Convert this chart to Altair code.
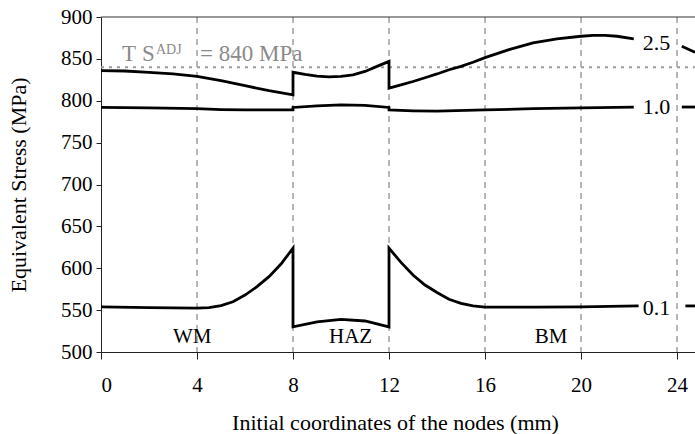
import altair as alt
import pandas as pd

# ---- data ----
# curve "2.5"
x_25_a = [0, 1, 2, 3, 4, 5, 6, 7, 8, 8, 8.5, 9, 9.5, 10, 10.5, 11, 11.5, 12, 12,
          12.5, 13, 13.5, 14, 14.5, 15, 15.5, 16, 17, 18, 19, 20, 20.5, 21, 21.5, 22.2]
y_25_a = [836, 835.5, 834, 832, 829, 824, 818, 812, 807, 834, 831.5, 829.5, 828.5, 829,
          831, 835, 841, 847, 815, 819, 823, 827.5, 832, 837, 841, 846, 851.5, 861, 869,
          874, 877, 878, 878, 877, 874]
x_25_b = [24.2, 24.75]
y_25_b = [865, 858]

# curve "1.0"
x_10_a = [0, 2, 4, 5, 6, 7, 8, 8, 9, 10, 11, 12, 12, 13, 14, 16, 18, 20, 22.2]
y_10_a = [792, 791.5, 790.5, 789.5, 789, 789, 789, 792, 794, 795, 794.5, 792, 789, 788,
          787.5, 789, 790.5, 791.5, 792.5]
x_10_b = [24.2, 24.75]
y_10_b = [792.5, 792.5]

# curve "0.1"
x_01_a = [0, 2, 4, 4.5, 5, 5.5, 6, 6.5, 7, 7.5, 8, 8, 9, 10, 11, 12, 12, 12.5, 13,
          13.5, 14, 14.5, 15, 15.5, 16, 18, 20, 22.4]
y_01_a = [554, 553, 552.5, 553, 555.5, 560, 568, 578, 590, 605, 624, 530, 536, 539, 537,
          530, 624, 607, 592, 580, 571, 563, 558, 555, 553.5, 553.5, 554, 555]
x_01_b = [24.35, 24.75]
y_01_b = [555, 555]

curve_labels = ["2.5", "1.0", "0.1"]
curve_label_x = [23.15, 23.15, 23.15]
curve_label_y = [869, 792.5, 553]

zone_names = ["WM", "HAZ", "BM"]
zone_x = [3.8, 10.4, 18.75]
zone_y = [518, 518, 518]

grid_x = [4, 8, 12, 16, 20, 24]
ts_value = 840
ts_label_x = 0.875
ts_label_y = 847

x_ticks = [0, 4, 8, 12, 16, 20, 24]
y_ticks = [500, 550, 600, 650, 700, 750, 800, 850, 900]

# ---- build tables ----
rows = []
def add(seg, xs, ys):
    for i, (xv, yv) in enumerate(zip(xs, ys)):
        rows.append({"seg": seg, "x": xv, "y": yv, "i": i})

add("2.5a", x_25_a, y_25_a)
add("2.5b", x_25_b, y_25_b)
add("1.0a", x_10_a, y_10_a)
add("1.0b", x_10_b, y_10_b)
add("0.1a", x_01_a, y_01_a)
add("0.1b", x_01_b, y_01_b)
curves = pd.DataFrame(rows)

labels_df = pd.DataFrame({"t": curve_labels, "x": curve_label_x, "y": curve_label_y})
zones_df = pd.DataFrame({"t": zone_names, "x": zone_x, "y": zone_y})
grid_df = pd.DataFrame({"x": grid_x})

FONT = "Liberation Serif"
W, H = 594, 335

xscale = alt.Scale(domain=[0, 24.75], nice=False, zero=False)
yscale = alt.Scale(domain=[500, 900], nice=False, zero=False)

X = alt.X("x:Q", scale=xscale, axis=alt.Axis(
    values=x_ticks, title="Initial coordinates of the nodes (mm)", grid=False,
    tickSize=7, labelPadding=26, labelBaseline="middle",
    titleX=294, titleY=70, titleBaseline="middle", titleAlign="center"))
Y = alt.Y("y:Q", scale=yscale, axis=alt.Axis(
    values=y_ticks, title="Equivalent Stress (MPa)", grid=False,
    tickSize=5, labelPadding=4,
    titleX=-83, titleY=H / 2, titleBaseline="middle", titleAlign="center", titleAngle=-90))

base_curves = alt.Chart(curves).mark_line(color="black", strokeWidth=2.8).encode(
    x=X, y=Y, detail="seg:N", order=alt.Order("i:Q"))

grid = alt.Chart(grid_df).mark_rule(color="#6f6f6f", strokeWidth=1, strokeDash=[6, 5]).encode(
    x=alt.X("x:Q", scale=xscale))

top_border = alt.Chart(pd.DataFrame({"y": [900]})).mark_rule(color="#333", strokeWidth=1).encode(
    y=alt.Y("y:Q", scale=yscale), x=alt.value(0), x2=alt.value(W))

ts_line = alt.Chart(pd.DataFrame({"y": [ts_value]})).mark_rule(
    color="#9a9a9a", strokeWidth=2, strokeDash=[3, 5]).encode(
    y=alt.Y("y:Q", scale=yscale), x=alt.value(0), x2=alt.value(W))

ts_df = pd.DataFrame({"x": [ts_label_x], "y": [ts_label_y]})
def ts_text(txt, dx, dy, size):
    return alt.Chart(ts_df).mark_text(text=txt, font=FONT, fontSize=size, color="#8a8a8a",
                                      align="left", baseline="alphabetic", dx=dx, dy=dy).encode(
        x=alt.X("x:Q", scale=xscale), y=alt.Y("y:Q", scale=yscale))

ts_parts = ts_text("T", 0, 0, 23) + ts_text("S", 20, 0, 23) + ts_text("ADJ", 34, -7, 14) + \
    ts_text("= 840 MPa", 78, 0, 23)

curve_text = alt.Chart(labels_df).mark_text(font=FONT, fontSize=22, color="black",
                                            align="center", baseline="middle").encode(
    x=alt.X("x:Q", scale=xscale), y=alt.Y("y:Q", scale=yscale), text="t:N")

zone_text = alt.Chart(zones_df).mark_text(font=FONT, fontSize=21, color="black",
                                          align="center", baseline="middle").encode(
    x=alt.X("x:Q", scale=xscale), y=alt.Y("y:Q", scale=yscale), text="t:N")

chart = alt.layer(grid, top_border, ts_line, base_curves, ts_parts, curve_text, zone_text).properties(
    width=W, height=H, autosize="none",
    padding={"left": 101, "top": 17, "right": 0, "bottom": 82},
    background="white"
).configure_view(stroke=None).configure_axis(
    domainColor="#222", domainWidth=1, tickColor="#222", tickWidth=1,
    labelFont=FONT, labelFontSize=21, labelColor="black",
    titleFont=FONT, titleFontSize=22, titleFontWeight="normal", titleColor="black"
)

chart.save("out.html", embed_options={"renderer": "svg", "actions": False})
